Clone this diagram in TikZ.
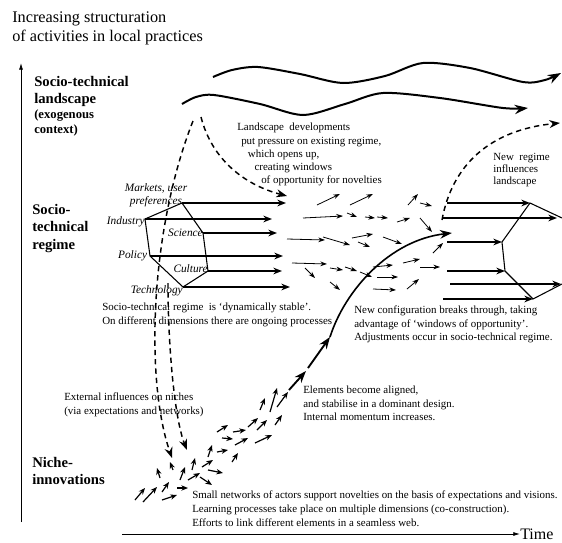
\documentclass[tikz,border=0pt]{standalone}
\usepackage{fontspec}
\setmainfont{Liberation Serif}
\usepackage{tikz}
\usetikzlibrary{arrows.meta, arrows, positioning}

\begin{document}
\begin{tikzpicture}[x=0.75pt, y=-0.75pt, >=latex', font=\fontsize{8.2}{9.9}\selectfont]
        % Stijlen voor teksten en pijlen
        \tikzstyle{layerLabel} = [font=\fontsize{11}{13}\selectfont\bfseries, align=left, anchor=north west, inner sep=0pt]
        \tikzstyle{note} = [align=left, anchor=north west, inner sep=0pt]
        \tikzstyle{dimension} = [font=\fontsize{8.5}{10}\selectfont\itshape, inner sep=0pt]
        \tikzstyle{wave} = [line width=1.5pt, ->, >={Stealth[length=10pt, width=7pt]}]
        \tikzstyle{flow} = [line width=1.1pt, ->, >={Stealth[length=6.5pt, width=5pt]}]
        \tikzstyle{drift} = [line width=0.6pt, ->, >={Stealth[length=5pt, width=3.5pt]}]
        \tikzstyle{seed} = [line width=0.9pt, ->, >={Stealth[length=5pt, width=4pt]}]
        \tikzstyle{influence} = [line width=1.1pt, dash pattern=on 4pt off 3pt, ->, >={Stealth[length=8pt, width=6pt]}]
        \tikzstyle{breakthrough} = [line width=1.4pt, ->, >={Stealth[length=9pt, width=6.5pt]}]

        \useasboundingbox (0,0) rectangle (562,543);

        % Assen
        \node (yTitle) [note, font=\fontsize{12.2}{14.8}\selectfont] at (12,11) {Increasing structuration\\of activities in local practices};
        \coordinate (yBase) at (21,522);
        \coordinate (yTop) at (21,63);
        \draw [line width=0.6pt, ->, >={Latex[length=5pt, width=3pt]}] (yBase) -- (yTop);
        \node (timeLabel) [anchor=west, inner sep=0pt, font=\fontsize{12}{14}\selectfont] at (520,534) {Time};
        \coordinate (xBase) at (122,534);
        \draw [line width=0.6pt, ->, >={Latex[length=5pt, width=3pt]}] (xBase) -- (timeLabel.west);

        % Niveaus
        \node (landscapeLabel) [layerLabel] at (34,76) {Socio-technical\\landscape};
        \node (landscapeNote) [layerLabel, font=\fontsize{9.5}{11}\selectfont\bfseries, below=2pt of landscapeLabel.south west, anchor=north west] {(exogenous\\context)};
        \node (regimeLabel) [layerLabel] at (32,204) {Socio-\\technical\\regime};
        \node (nicheLabel) [layerLabel] at (32,457) {Niche-\\innovations};

        % Landschap
        \draw [wave] plot [smooth] coordinates {(213,77) (232,70) (258,67) (300,74) (343,83) (385,76) (423,63) (470,68) (523,82) (545,80) (561,73)};
        \draw [wave] plot [smooth] coordinates {(182,104) (196,97) (214,95) (260,104) (303,115) (345,104) (383,93) (440,98) (503,108) (528,108)};

        % Regime-dimensies
        \coordinate (markets) at (182,203);
        \coordinate (industry) at (145,219);
        \coordinate (science) at (203,233);
        \coordinate (policy) at (150,256);
        \coordinate (culture) at (208,271);
        \coordinate (technology) at (183,287);
        \draw [line width=0.8pt] (markets) -- (science) -- (culture) -- (technology) -- (policy) -- (industry) -- cycle;
        \foreach \dim/\len in {markets/104, industry/127, science/74, policy/133, culture/74, technology/107}
            \draw [flow] (\dim) -- ++(\len,0);
        \node (marketsLabel) [dimension, align=center] at (156,195) {Markets, user\\preferences};
        \node (industryLabel) [dimension, anchor=east, yshift=-2pt] at (industry) {Industry};
        \node (scienceLabel) [dimension, anchor=east] at (science) {Science};
        \node (policyLabel) [dimension, anchor=east, xshift=-2pt] at (policy) {Policy};
        \node (cultureLabel) [dimension, anchor=east, yshift=2pt] at (culture) {Culture};
        \node (technologyLabel) [dimension, anchor=east, yshift=-3pt] at (technology) {Technology};

        % Druk vanuit het landschap
        \coordinate (pressureLeft) at (193,121);
        \coordinate (pressureRight) at (201,117);
        \coordinate (nicheIn) at (172,458);
        \coordinate (regimeIn) at (287,196);
        \coordinate (regimeOut) at (168,283);
        \coordinate (nicheInB) at (187,450);
        \draw [influence] (pressureLeft) .. controls (150,230) and (145,380) .. (nicheIn);
        \draw [influence] (pressureRight) .. controls (212,160) and (245,185) .. (regimeIn);
        \draw [influence] (regimeOut) .. controls (168,350) and (175,420) .. (nicheInB);

        % Spanningen in het regime
        \foreach \xa/\ya/\xb/\yb in {317/205/340/194, 350/205/373/194, 303/218/343/216, 347/213/357/217, 365/217/375/218, 377/217/388/218, 397/222/410/218, 408/205/418/194, 420/203/432/206, 420/218/432/232, 287/239/325/240, 323/237/350/245, 352/238/373/234, 358/242/370/247, 383/237/402/244, 292/263/327/264, 305/268/315/278, 330/268/343/270, 345/267/357/271, 330/282/340/290, 360/272/372/277, 373/267/393/265, 377/277/398/277, 373/289/396/290, 403/263/420/259, 407/289/419/279, 420/267/440/267, 433/253/443/243}
            \draw [drift] (\xa,\ya) -- (\xb,\yb);

        % Niches
        \foreach \xa/\ya/\xb/\yb in {135/500/145/488, 143/502/157/487, 162/492/169/482, 162/500/177/495, 177/488/188/488, 160/478/157/468, 173/470/170/462, 180/480/185/467, 188/480/200/473, 200/477/212/485, 192/470/195/458, 202/467/213/460, 208/470/223/473, 208/457/212/445, 217/452/228/450, 232/462/238/453, 217/432/228/425, 222/438/233/439, 233/432/246/430, 235/445/248/438, 248/427/258/418, 257/430/267/420, 255/443/272/435, 260/410/265/398, 270/412/277/388, 275/425/282/415, 277/407/288/392}
            \draw [seed] (\xa,\ya) -- (\xb,\yb);

        % Doorbraak naar het regime
        \coordinate (nicheTop) at (289,390);
        \coordinate (stepA) at (306,371);
        \coordinate (stepB) at (308,368);
        \coordinate (stepC) at (330,337);
        \coordinate (regimeEntry) at (452,233);
        \draw [breakthrough] (nicheTop) -- (stepA);
        \draw [breakthrough] (stepB) -- (stepC);
        \draw [breakthrough, line width=1.2pt] (stepC) .. controls (345,290) and (390,240) .. (regimeEntry);

        % Nieuw regime
        \coordinate (newTop) at (530,203);
        \coordinate (newEdgeA) at (562,218);
        \coordinate (newMidA) at (502,242);
        \coordinate (newMidB) at (505,271);
        \coordinate (newBottom) at (533,299);
        \coordinate (newEdgeB) at (562,284);
        \draw [line width=0.8pt] (newEdgeA) -- (newTop) -- (newMidA) -- (newMidB) -- (newBottom) -- (newEdgeB);
        \draw [flow] (447,203) -- (newTop);
        \draw [flow] (443,218) -- (557,218);
        \draw [flow] (447,242) -- (newMidA);
        \draw [flow] (447,271) -- (newMidB);
        \draw [flow] (450,284) -- (561,284);
        \draw [flow] (443,299) -- (newBottom);
        \coordinate (newRegimeStart) at (442,220);
        \coordinate (landscapeEntry) at (560,123);
        \draw [influence] (newRegimeStart) .. controls (452,165) and (490,130) .. (landscapeEntry);

        % Toelichtingen
        \node (pressureNote) [note] at (237,123) {Landscape\ \ developments\\\hspace*{3pt}put pressure on existing regime,\\\hspace*{8pt}which opens up,\\\hspace*{13pt}creating windows\\\hspace*{18pt}of opportunity for novelties};
        \node (newRegimeNote) [note, font=\fontsize{8.2}{9}\selectfont] at (493,153) {New\ \ regime\\influences\\landscape};
        \node (regimeNote) [note, font=\fontsize{8.2}{10.3}\selectfont] at (102,303) {Socio-technical regime\ \ is `dynamically stable'.\\On different dimensions there are ongoing processes};
        \node (breakthroughNote) [note, font=\fontsize{8.2}{10.1}\selectfont] at (354,306) {New configuration breaks through, taking\\advantage of `windows of opportunity'.\\Adjustments occur in socio-technical regime.};
        \node (externalNote) [note] at (64,393) {External influences on niches\\(via expectations and networks)};
        \node (alignedNote) [note, font=\fontsize{8.2}{10.1}\selectfont] at (303,386) {Elements become aligned,\\and stabilise in a dominant design.\\Internal momentum increases.};
        \node (nicheNote) [note, font=\fontsize{8.2}{10.3}\selectfont] at (192,491) {Small networks of actors support novelties on the basis of expectations and visions.\\Learning processes take place on multiple dimensions (co-construction).\\Efforts to link different elements in a seamless web.};
\end{tikzpicture}
\end{document}
